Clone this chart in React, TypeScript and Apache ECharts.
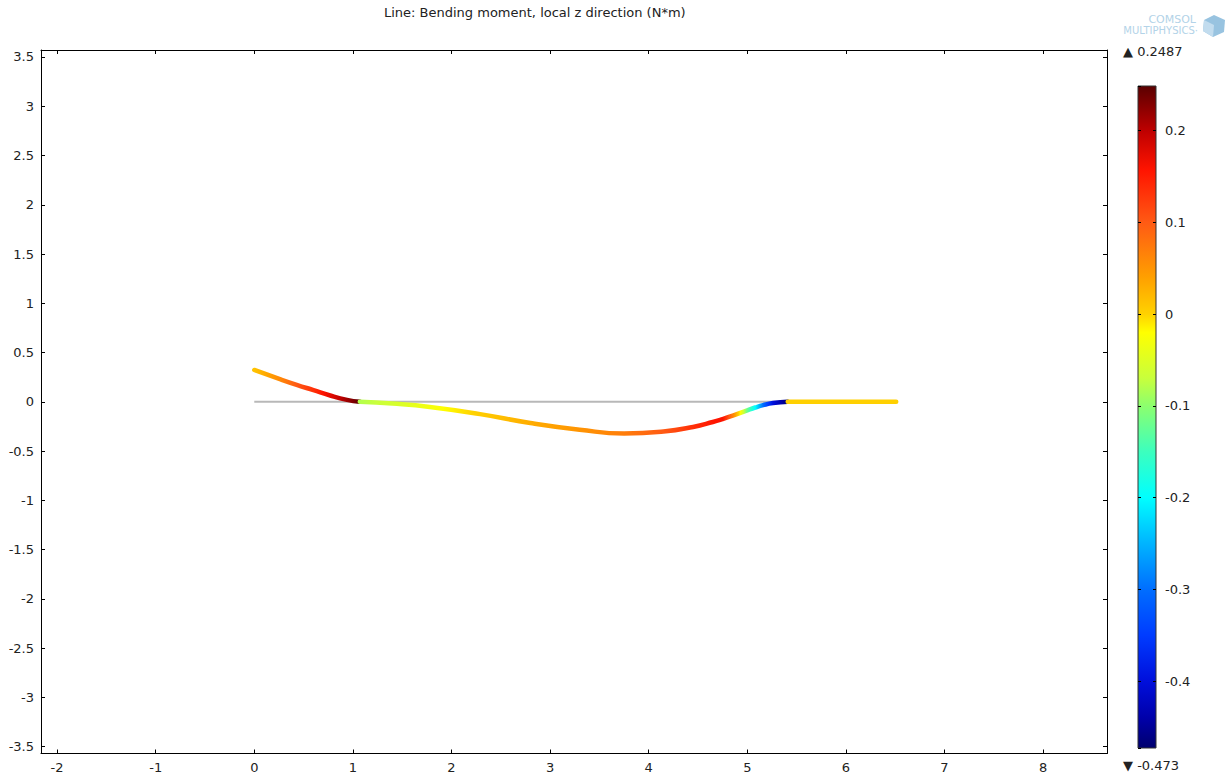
import React, { useEffect, useRef } from 'react';
import * as echarts from 'echarts';

const TITLE = 'Line: Bending moment, local z direction (N*m)';
const FONT = 'DejaVu Sans, Verdana, sans-serif';

// axis ranges
const X_MIN = -2.163;
const X_MAX = 8.648;
const Y_MIN = -3.57;
const Y_MAX = 3.571;
const M_MIN = -0.473;
const M_MAX = 0.2487;

// undeformed beam
const UNDEFORMED_X = [0, 5.41];
const UNDEFORMED_Y = [0, 0];

// deformed beam, segment 1
const SEG1_X = [0, 0.26, 0.43, 0.6, 0.77, 0.94, 1.07];
const SEG1_Y = [0.323, 0.23, 0.172, 0.118, 0.064, 0.02, 0];
const SEG1_M = [0.012, 0.06, 0.1, 0.135, 0.175, 0.215, 0.2487];

// segment 2
const SEG2_X = [1.07, 1.4, 1.78, 2.29, 2.8, 3.3, 3.75, 4.15, 4.45, 4.65, 4.75, 4.86, 4.93, 5.0, 5.08, 5.16, 5.26, 5.41];
const SEG2_Y = [0, -0.018, -0.052, -0.125, -0.215, -0.283, -0.322, -0.302, -0.255, -0.205, -0.175, -0.138, -0.112, -0.086, -0.058, -0.034, -0.013, 0];
const SEG2_M = [-0.08, -0.06, -0.03, 0.005, 0.03, 0.05, 0.07, 0.1, 0.135, 0.155, 0.16, 0.06, -0.02, -0.12, -0.2, -0.3, -0.4, -0.473];

// segment 3
const SEG3_X = [5.41, 6.51];
const SEG3_Y = [0, 0];
const SEG3_M = [0.002, 0.002];

// colormap
const CMAP_VALUES = [-0.473, -0.44, -0.4, -0.35, -0.3, -0.25, -0.2, -0.15, -0.1, -0.07, -0.02, 0, 0.04, 0.1, 0.157, 0.2, 0.2487];
const CMAP_COLORS = ['#00006e', '#0000aa', '#000fdc', '#003cff', '#006eff', '#00b4ff', '#00ffff', '#3cffbe', '#8cff6e', '#c8ff3c', '#ffff00', '#ffd200', '#ffa000', '#ff5a14', '#ff1400', '#be0000', '#5a0000'];

function hexToRgb(h: string): number[] {
  const n = parseInt(h.slice(1), 16);
  return [(n >> 16) & 255, (n >> 8) & 255, n & 255];
}

function colorAt(v: number): string {
  const vals = CMAP_VALUES;
  if (v <= vals[0]) return CMAP_COLORS[0];
  if (v >= vals[vals.length - 1]) return CMAP_COLORS[vals.length - 1];
  for (let i = 0; i < vals.length - 1; i++) {
    if (v >= vals[i] && v <= vals[i + 1]) {
      const t = (v - vals[i]) / (vals[i + 1] - vals[i]);
      const a = hexToRgb(CMAP_COLORS[i]);
      const b = hexToRgb(CMAP_COLORS[i + 1]);
      const c = a.map((av, k) => Math.round(av + (b[k] - av) * t));
      return `rgb(${c[0]},${c[1]},${c[2]})`;
    }
  }
  return CMAP_COLORS[0];
}

function segGradient(xs: number[], ms: number[]) {
  const x0 = xs[0];
  const x1 = xs[xs.length - 1];
  const stops: { offset: number; color: string }[] = [];
  for (let i = 0; i < xs.length - 1; i++) {
    const sub = 8;
    for (let s = 0; s < sub; s++) {
      const t = s / sub;
      const x = xs[i] + (xs[i + 1] - xs[i]) * t;
      const m = ms[i] + (ms[i + 1] - ms[i]) * t;
      stops.push({ offset: (x - x0) / (x1 - x0), color: colorAt(m) });
    }
  }
  stops.push({ offset: 1, color: colorAt(ms[ms.length - 1]) });
  return new echarts.graphic.LinearGradient(0, 0, 1, 0, stops);
}

function zip(xs: number[], ys: number[]) {
  return xs.map((x, i) => [x, ys[i]]);
}

export default function App() {
  const ref = useRef<HTMLDivElement>(null);

  useEffect(() => {
    if (!ref.current) return;
    const chart = echarts.init(ref.current, null, { renderer: 'svg' });

    const barStops = CMAP_VALUES.map((v, i) => ({
      offset: (M_MAX - v) / (M_MAX - M_MIN),
      color: CMAP_COLORS[i],
    })).sort((a, b) => a.offset - b.offset);

    const labelStyle = { fontFamily: FONT, fontSize: 13, color: '#222' };
    const blackLine = { show: true, onZero: false, lineStyle: { color: '#000', width: 1 } };
    const inTick = { show: true, inside: true, length: 4, lineStyle: { color: '#000', width: 1 } };

    const seg = (xs: number[], ys: number[], ms: number[], solid?: boolean) => ({
      type: 'line',
      xAxisIndex: 0,
      yAxisIndex: 0,
      data: zip(xs, ys),
      showSymbol: false,
      symbol: 'none',
      smooth: 0.5,
      z: 3,
      lineStyle: {
        width: 4.5,
        cap: 'round',
        join: 'round',
        color: solid ? colorAt(ms[0]) : segGradient(xs, ms),
      },
      silent: true,
    });

    chart.setOption({
      animation: false,
      backgroundColor: '#fff',
      title: {
        text: TITLE,
        left: 379,
        top: 1,
        textStyle: { fontFamily: FONT, fontSize: 13, fontWeight: 'normal', color: '#222' },
      },
      grid: [
        { left: 41, top: 50, width: 1066, height: 703.5, containLabel: false },
        { left: 1138, top: 86, width: 18, height: 662, containLabel: false },
      ],
      xAxis: [
        {
          gridIndex: 0, type: 'value', position: 'bottom', min: X_MIN, max: X_MAX, splitNumber: 10,
          axisLine: blackLine, axisTick: inTick, splitLine: { show: false },
          axisLabel: { ...labelStyle, margin: 7, showMinLabel: false, showMaxLabel: false },
        },
        {
          gridIndex: 0, type: 'value', position: 'top', min: X_MIN, max: X_MAX, splitNumber: 10,
          axisLine: blackLine, axisTick: inTick, splitLine: { show: false }, axisLabel: { show: false },
        },
        { gridIndex: 1, type: 'value', min: 0, max: 1, show: false },
      ],
      yAxis: [
        {
          gridIndex: 0, type: 'value', position: 'left', min: Y_MIN, max: Y_MAX, splitNumber: 14,
          axisLine: blackLine, axisTick: inTick, splitLine: { show: false },
          axisLabel: { ...labelStyle, margin: 7, showMinLabel: false, showMaxLabel: false },
        },
        {
          gridIndex: 0, type: 'value', position: 'right', min: Y_MIN, max: Y_MAX, splitNumber: 14,
          axisLine: blackLine, axisTick: inTick, splitLine: { show: false }, axisLabel: { show: false },
        },
        {
          gridIndex: 1, type: 'value', position: 'right', min: M_MIN, max: M_MAX, z: 10,
          axisLine: { show: false, onZero: false }, splitLine: { show: false },
          axisTick: { show: true, inside: true, length: 3, lineStyle: { color: '#000' } },
          axisLabel: { ...labelStyle, margin: 9, showMinLabel: false, showMaxLabel: false },
        },
        {
          gridIndex: 1, type: 'value', position: 'left', min: M_MIN, max: M_MAX, z: 10,
          axisLine: { show: false, onZero: false }, splitLine: { show: false },
          axisTick: { show: true, inside: true, length: 3, lineStyle: { color: '#000' } },
          axisLabel: { show: false },
        },
      ],
      series: [
        {
          type: 'custom',
          xAxisIndex: 2,
          yAxisIndex: 2,
          data: [[0, M_MIN]],
          z: 1,
          silent: true,
          renderItem: (params: any, api: any) => {
            const p1 = api.coord([0, M_MAX]);
            const p2 = api.coord([1, M_MIN]);
            return {
              type: 'rect',
              shape: { x: p1[0], y: p1[1], width: p2[0] - p1[0], height: p2[1] - p1[1] },
              style: {
                fill: new echarts.graphic.LinearGradient(0, 0, 0, 1, barStops),
                stroke: '#333',
                lineWidth: 1,
              },
            };
          },
        },
        {
          type: 'line',
          xAxisIndex: 0,
          yAxisIndex: 0,
          data: zip(UNDEFORMED_X, UNDEFORMED_Y),
          symbol: 'none',
          z: 2,
          silent: true,
          lineStyle: { color: '#b8b8b8', width: 2 },
        },
        seg(SEG1_X, SEG1_Y, SEG1_M),
        seg(SEG2_X, SEG2_Y, SEG2_M),
        seg(SEG3_X, SEG3_Y, SEG3_M, true),
      ],
      graphic: [
        {
          type: 'text', left: 1123, top: 45,
          style: { text: '\u25B2 0.2487', font: `13px ${FONT}`, fill: '#222' },
        },
        {
          type: 'text', left: 1123, top: 759,
          style: { text: '\u25BC -0.473', font: `13px ${FONT}`, fill: '#222' },
        },
        {
          type: 'text', x: 1196, y: 14,
          style: { text: 'COMSOL', font: `11px ${FONT}`, fill: '#b3d3e8', align: 'right' },
        },
        {
          type: 'text', x: 1198, y: 25,
          style: { text: 'MULTIPHYSICS\u00B7', font: `10px ${FONT}`, fill: '#b3d3e8', align: 'right' },
        },
        {
          type: 'polygon',
          shape: { points: [[1214, 15], [1225, 20], [1224, 32], [1213, 37], [1203, 31], [1204, 20]] },
          style: { fill: '#98c3e0' },
        },
        {
          type: 'polygon',
          shape: { points: [[1204, 20], [1214, 25], [1213, 37], [1203, 31]] },
          style: { fill: '#c2dcee' },
        },
      ],
    });

    return () => chart.dispose();
  }, []);

  return <div ref={ref} style={{ position: 'absolute', left: 0, top: 0, width: 1231, height: 780 }} />;
}
